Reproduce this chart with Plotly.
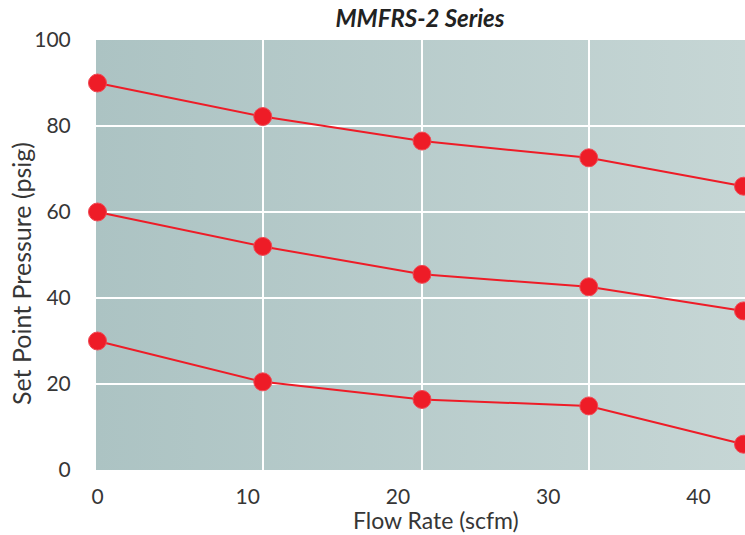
import base64
import plotly.graph_objects as go

flow = [0, 11.0, 21.6, 32.7, 43.0]
high = [90.0, 82.2, 76.5, 72.6, 66.0]
mid = [60.0, 52.0, 45.5, 42.6, 37.0]
low = [30.0, 20.5, 16.4, 14.9, 6.0]

x_ticks = [0, 10, 20, 30, 40]
y_ticks = [0, 20, 40, 60, 80, 100]

red = "#ee1c27"
font = "Lato, 'Open Sans', sans-serif"

# gradient panel behind the plot area
svg = ('<svg xmlns="http://www.w3.org/2000/svg" width="100" height="100" preserveAspectRatio="none">'
       '<defs><linearGradient id="g" x1="0" x2="1" y1="0" y2="0">'
       '<stop offset="0" stop-color="#acc3c3"/><stop offset="1" stop-color="#c6d6d5"/>'
       '</linearGradient></defs><rect width="100" height="100" fill="url(#g)"/></svg>')
bg = "data:image/svg+xml;base64," + base64.b64encode(svg.encode()).decode()

fig = go.Figure()
for s in [high, mid, low]:
    fig.add_trace(go.Scatter(
        x=flow, y=s, mode="lines+markers", cliponaxis=False,
        line=dict(color=red, width=2),
        marker=dict(color=red, size=18, line=dict(color="#f04a55", width=1)),
        showlegend=False, hoverinfo="x+y"))

# invisible trace so the grid axis gets drawn
fig.add_trace(go.Scatter(x=flow, y=high, xaxis="x2", mode="lines",
                         line=dict(width=0), showlegend=False, hoverinfo="skip"))

fig.update_layout(
    width=745, height=535,
    margin=dict(l=96, r=0, t=40, b=65, autoexpand=False),
    paper_bgcolor="white", plot_bgcolor="#b9cdcc",
    font=dict(family=font, size=21, color="#363636"),
    title=dict(text="<b><i>MMFRS-2 Series</i></b>", x=0.5638, xanchor="center",
               y=0.966, yanchor="middle",
               font=dict(family=font, size=24, color="#222222")),
    images=[dict(source=bg, xref="paper", yref="paper", x=0, y=1, sizex=1, sizey=1,
                 sizing="stretch", layer="below")],
    xaxis=dict(range=[-0.1, 43.1], tickvals=x_ticks, showgrid=False, zeroline=False,
               ticks="outside", ticklen=8, tickcolor="rgba(0,0,0,0)", showline=False,
               automargin=False),
    xaxis2=dict(range=[-0.1, 43.1], overlaying="x", side="bottom", tickvals=flow[1:-1],
                showticklabels=False, showgrid=True, gridcolor="white", gridwidth=1.5,
                zeroline=False, showline=False, automargin=False),
    yaxis=dict(range=[0, 100], tickvals=y_ticks, showgrid=True, gridcolor="white",
               gridwidth=1.5, zeroline=False, ticks="outside", ticklen=20,
               tickcolor="rgba(0,0,0,0)", automargin=False),
    annotations=[
        dict(text="Flow Rate (scfm)", xref="paper", yref="paper", x=0.524, y=-0.117,
             xanchor="center", yanchor="middle", showarrow=False,
             font=dict(family=font, size=23, color="#363636")),
        dict(text="Set Point Pressure (psig)", xref="paper", yref="paper", x=-0.1156,
             y=0.458, textangle=-90, xanchor="center", yanchor="middle", showarrow=False,
             font=dict(family=font, size=25, color="#363636")),
    ],
)

fig.write_html("out.html", config={"displayModeBar": False},
               post_script="document.body.style.margin='0';")
